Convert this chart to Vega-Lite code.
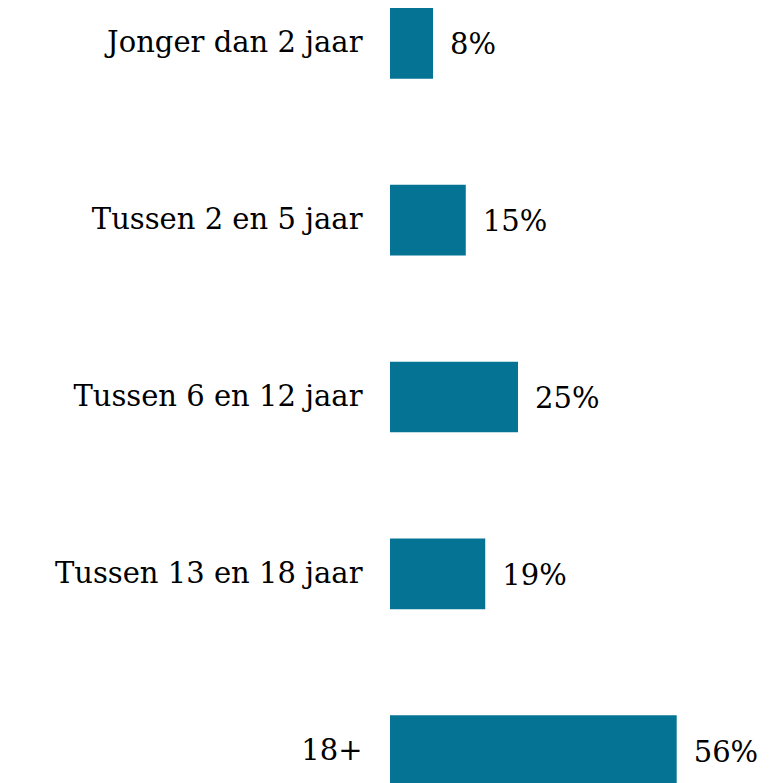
{
  "$schema": "https://vega.github.io/schema/vega-lite/v6.json",
  "autosize": "none",
  "padding": {"left": 390, "top": 0, "right": 0, "bottom": 0},
  "width": 391,
  "height": 794,
  "background": "white",
  "config": {"view": {"stroke": null}, "font": "DejaVu Serif"},
  "data": {"values": [
    {"category": "Jonger dan 2 jaar", "value": 0.084},
    {"category": "Tussen 2 en 5 jaar", "value": 0.148},
    {"category": "Tussen 6 en 12 jaar", "value": 0.25},
    {"category": "Tussen 13 en 18 jaar", "value": 0.186},
    {"category": "18+", "value": 0.56}
  ]},
  "encoding": {
    "y": {"field": "category", "type": "nominal", "sort": null,
      "scale": {"paddingInner": 0.6, "paddingOuter": 0.045},
      "axis": {"title": null, "ticks": false, "domain": false, "labelPadding": 28,
        "labelFont": "DejaVu Serif", "labelFontSize": 29, "labelColor": "#000000", "labelLimit": 400}},
    "x": {"field": "value", "type": "quantitative",
      "scale": {"domain": [0, 0.7637], "nice": false, "zero": true},
      "axis": null}
  },
  "layer": [
    {"mark": {"type": "bar", "color": "#057394"}},
    {"mark": {"type": "text", "align": "left", "baseline": "middle", "dx": 17, "dy": 2, "font": "DejaVu Serif", "fontSize": 29, "color": "#000000"},
     "encoding": {"text": {"field": "value", "type": "quantitative", "format": ".0%"}}}
  ]
}
